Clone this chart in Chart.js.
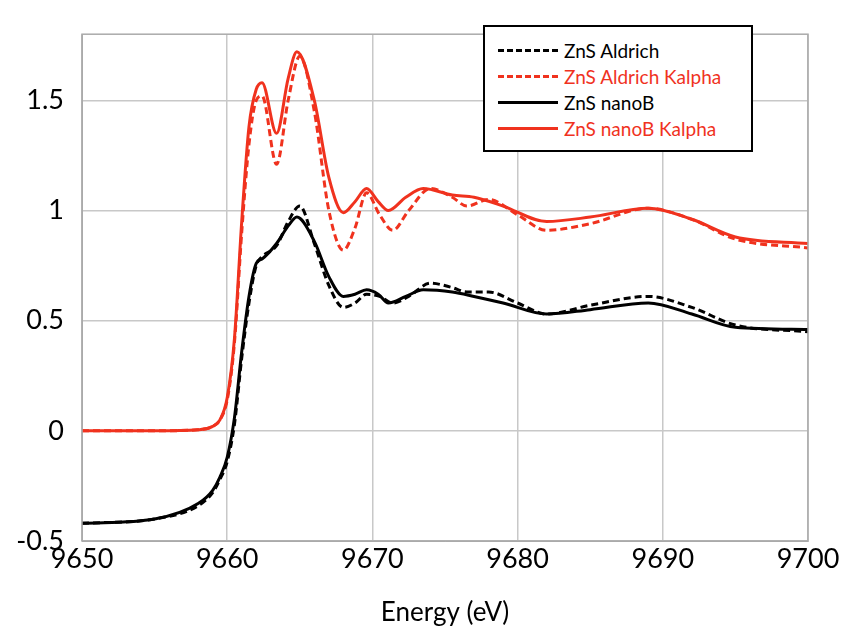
<!DOCTYPE html>
<html>
<head>
<meta charset="utf-8">
<script src="https://cdn.jsdelivr.net/npm/chart.js@4/dist/chart.umd.min.js"></script>
<style>
  body { margin: 0; background: #fff; }
  #wrap { position: relative; width: 843px; height: 632px; }
  #legend {
    position: absolute; left: 483px; top: 25px; width: 270px; height: 127px;
    border: 2px solid #000; background: #fff; box-sizing: border-box;
    font-family: Lato, "Noto Sans", sans-serif; font-size: 19px; padding: 10px 0 0 13px;
  }
  .row { display: flex; align-items: center; height: 26px; }
  .sw { width: 60px; margin-right: 6px; border-top-width: 3px; }
</style>
</head>
<body>
<div id="wrap">
  <canvas id="chartCanvas" width="843" height="632"></canvas>
  <div id="legend"></div>
</div>
<script>
const RED = '#f0321e';

const aldrichX  = [9650, 9655, 9658, 9659, 9659.5, 9660, 9660.5, 9661, 9661.5, 9662, 9662.4, 9663.4, 9664.2, 9665, 9666, 9667, 9668, 9668.8, 9669.6, 9670.5, 9671.4, 9672.5, 9674, 9675.5, 9676.5, 9678, 9680, 9682, 9685, 9689, 9692, 9695, 9700];
const aldrichKa = [0, 0, 0.005, 0.02, 0.05, 0.14, 0.4, 0.9, 1.3, 1.5, 1.52, 1.21, 1.5, 1.70, 1.45, 1.0, 0.82, 0.92, 1.08, 0.98, 0.91, 1.0, 1.10, 1.06, 1.02, 1.05, 0.98, 0.91, 0.94, 1.01, 0.96, 0.87, 0.83];
const aldrich   = [-0.42, -0.40, -0.34, -0.28, -0.22, -0.14, 0.03, 0.33, 0.58, 0.75, 0.79, 0.84, 0.95, 1.02, 0.85, 0.66, 0.56, 0.58, 0.62, 0.61, 0.58, 0.61, 0.67, 0.65, 0.63, 0.63, 0.58, 0.53, 0.57, 0.61, 0.56, 0.48, 0.45];

const nanoX  = [9650, 9655, 9658, 9659, 9659.5, 9660, 9660.5, 9661, 9661.5, 9662, 9662.4, 9663.4, 9664.2, 9664.8, 9666, 9667, 9668, 9668.8, 9669.6, 9670.4, 9671.1, 9672.3, 9673.5, 9675.5, 9677, 9679, 9682, 9685, 9689, 9692, 9695, 9700];
const nanoKa = [0, 0, 0.005, 0.02, 0.05, 0.15, 0.42, 0.95, 1.38, 1.55, 1.58, 1.35, 1.6, 1.72, 1.5, 1.15, 0.99, 1.04, 1.10, 1.04, 1.0, 1.06, 1.10, 1.07, 1.06, 1.02, 0.95, 0.97, 1.01, 0.96, 0.88, 0.85];
const nano   = [-0.42, -0.40, -0.33, -0.27, -0.21, -0.12, 0.06, 0.36, 0.61, 0.76, 0.78, 0.85, 0.93, 0.97, 0.86, 0.7, 0.61, 0.62, 0.64, 0.62, 0.58, 0.61, 0.64, 0.63, 0.61, 0.58, 0.53, 0.55, 0.58, 0.53, 0.47, 0.46];

const xTicks = [9650, 9660, 9670, 9680, 9690, 9700];
const yTicks = [-0.5, 0, 0.5, 1, 1.5];

const pts = (xs, ys) => xs.map((x, i) => ({ x, y: ys[i] }));

const series = [
  { label: 'ZnS Aldrich', data: pts(aldrichX, aldrich), color: '#000', dash: [7, 4] },
  { label: 'ZnS Aldrich Kalpha', data: pts(aldrichX, aldrichKa), color: RED, dash: [7, 4] },
  { label: 'ZnS nanoB', data: pts(nanoX, nano), color: '#000', dash: [] },
  { label: 'ZnS nanoB Kalpha', data: pts(nanoX, nanoKa), color: RED, dash: [] }
];

const legend = document.getElementById('legend');
series.forEach(s => {
  const row = document.createElement('div');
  row.className = 'row';
  row.innerHTML = `<span class="sw" style="border-top:3px ${s.dash.length ? 'dashed' : 'solid'} ${s.color}"></span><span style="color:${s.color}">${s.label}</span>`;
  legend.appendChild(row);
});

const font = { family: 'Lato, "Noto Sans", sans-serif', size: 27 };

const frame = {
  id: 'frame',
  afterDraw(chart) {
    const { ctx, chartArea: a } = chart;
    ctx.save();
    ctx.strokeStyle = '#aaa';
    ctx.lineWidth = 1.5;
    ctx.strokeRect(a.left, a.top, a.right - a.left, a.bottom - a.top);
    ctx.restore();
  }
};

new Chart(document.getElementById('chartCanvas'), {
  type: 'line',
  data: {
    datasets: series.map(s => ({
      label: s.label,
      data: s.data,
      borderColor: s.color,
      borderDash: s.dash,
      borderWidth: 3,
      pointRadius: 0,
      cubicInterpolationMode: 'monotone',
      fill: false
    }))
  },
  plugins: [frame],
  options: {
    responsive: false,
    animation: false,
    layout: { padding: { top: 12, right: 35, left: 0, bottom: 0 } },
    plugins: { legend: { display: false }, tooltip: { enabled: false } },
    scales: {
      x: {
        type: 'linear', min: 9650, max: 9700,
        afterBuildTicks: ax => { ax.ticks = xTicks.map(v => ({ value: v })); },
        afterFit: ax => { ax.height = 91; },
        ticks: { font, color: '#000', padding: 2, callback: v => String(v) },
        grid: { color: '#c8c8c8', lineWidth: 1.5, drawTicks: false },
        border: { color: '#aaa' },
        title: { display: true, text: 'Energy (eV)', font: { family: font.family, size: 26 }, color: '#000', padding: { top: 12 } }
      },
      y: {
        min: -0.5, max: 1.8,
        afterBuildTicks: ax => { ax.ticks = yTicks.map(v => ({ value: v })); },
        afterFit: ax => { ax.width = 82; },
        ticks: { font, color: '#000', padding: 18, callback: v => String(v) },
        grid: { color: '#c8c8c8', lineWidth: 1.5, drawTicks: false },
        border: { color: '#aaa' }
      }
    }
  }
});
</script>
</body>
</html>
